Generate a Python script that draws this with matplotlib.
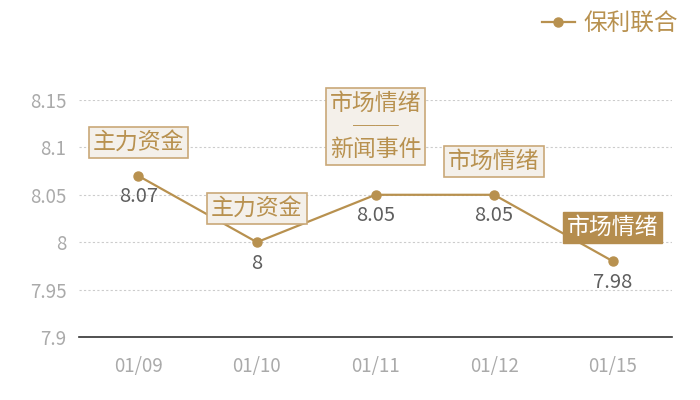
import matplotlib
matplotlib.use("Agg")
import matplotlib.pyplot as plt
from matplotlib.lines import Line2D

plt.rcParams['font.family'] = ['Noto Sans CJK SC', 'DejaVu Sans']

dates = ["01/09", "01/10", "01/11", "01/12", "01/15"]
values = [8.07, 8.00, 8.05, 8.05, 7.98]
value_labels = ["8.07", "8", "8.05", "8.05", "7.98"]
tags = ["主力资金", "主力资金", "市场情绪\n──\n新闻事件", "市场情绪", "市场情绪"]
tag_highlight = [False, False, False, False, True]
series_name = "保利联合"
yticks = [7.9, 7.95, 8.0, 8.05, 8.1, 8.15]
ytick_labels = ["7.9", "7.95", "8", "8.05", "8.1", "8.15"]

GOLD = "#b8914f"
BOX_FILL = "#f4f0ea"
BOX_EDGE = "#c9a878"

fig = plt.figure(figsize=(7, 4), dpi=100)
ax = fig.add_axes([79/700, 1-337/400, (672-79)/700, (337-100)/400])

x = list(range(len(dates)))
ax.plot(x, values, color=GOLD, lw=1.6, marker='o', ms=6.5, zorder=3)

ax.set_xlim(-0.5, len(dates)-0.5)
ax.set_ylim(7.9, 8.15)
ax.set_yticks(yticks)
ax.set_yticklabels(ytick_labels)
ax.set_xticks(x)
ax.set_xticklabels(dates)
ax.tick_params(axis='both', length=0, colors="#aaaaaa", labelsize=13.5)
ax.tick_params(axis='x', pad=14)
ax.tick_params(axis='y', pad=9)
for s in ['top', 'right', 'left']:
    ax.spines[s].set_visible(False)
ax.spines['bottom'].set_color("#333333")
ax.spines['bottom'].set_linewidth(1.2)
ax.grid(axis='y', color="#cccccc", linestyle=(0, (2, 2)), lw=0.8)
ax.set_axisbelow(True)

for i, (v, lab, tag, hl) in enumerate(zip(values, value_labels, tags, tag_highlight)):
    ax.annotate(lab, (i, v), xytext=(0, -21), textcoords='offset pixels',
                ha='center', va='center', fontsize=14.5, color="#5f5f5f", zorder=5)
    if hl:
        bbox = dict(boxstyle='square,pad=0.17', fc="#b58d4e", ec="#b58d4e", lw=1)
        tc = "white"
    else:
        bbox = dict(boxstyle='square,pad=0.17', fc=BOX_FILL, ec=BOX_EDGE, lw=1.2)
        tc = GOLD
    dy = 34 if "\n" in tag else 22
    ax.annotate(tag, (i, v), xytext=(0, dy), textcoords='offset pixels',
                ha='center', va='bottom', fontsize=16.5, color=tc, bbox=bbox,
                linespacing=1.0, zorder=6, annotation_clip=False)

handle = Line2D([], [], color=GOLD, lw=1.6, marker='o', ms=6.5)
fig.legend([handle], [series_name], loc='upper right', bbox_to_anchor=(0.985, 1.0),
           frameon=False, fontsize=17, labelcolor=GOLD, handlelength=1.4,
           handletextpad=0.35, borderaxespad=0.1)

fig.savefig("out.png", dpi=100)
